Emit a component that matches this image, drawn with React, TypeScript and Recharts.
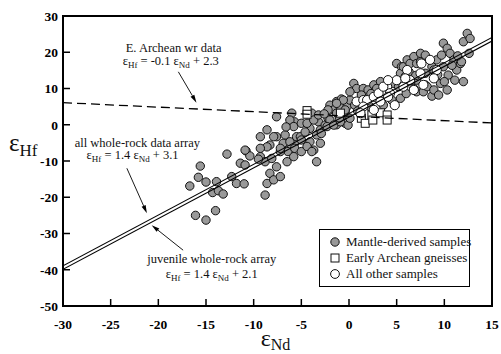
import React from 'react';
import {
  ScatterChart,
  Scatter,
  XAxis,
  YAxis,
  ReferenceArea,
  ReferenceDot,
  ReferenceLine,
  Legend,
} from 'recharts';

const serif = '"Liberation Serif", "Times New Roman", serif';

const xTicks = [-30, -25, -20, -15, -10, -5, 0, 5, 10, 15];
const yTicks = [-50, -40, -30, -20, -10, 0, 10, 20, 30];

// Mantle-derived samples (eNd, eHf)
const mantle = [
  { x: -16.7, y: -16.9 }, { x: -15.6, y: -11.4 }, { x: -15.8, y: -14.5 }, { x: -15.0, y: -15.8 },
  { x: -16.1, y: -25.0 }, { x: -15.0, y: -26.3 }, { x: -14.0, y: -23.7 }, { x: -14.3, y: -18.7 },
  { x: -13.9, y: -15.7 }, { x: -13.7, y: -18.2 }, { x: -13.2, y: -19.1 }, { x: -12.8, y: -8.1 },
  { x: -12.3, y: -14.3 }, { x: -11.8, y: -16.2 }, { x: -11.0, y: -16.3 }, { x: -11.4, y: -10.6 },
  { x: -10.9, y: -11.1 }, { x: -10.8, y: -7.2 }, { x: -10.4, y: -8.6 }, { x: -10.9, y: -7.0 },
  { x: -9.3, y: -3.3 }, { x: -8.6, y: -1.4 }, { x: -7.6, y: -3.3 }, { x: -8.3, y: -5.6 },
  { x: -6.9, y: -5.1 }, { x: -6.4, y: -7.4 }, { x: -9.3, y: -8.8 }, { x: -8.8, y: -10.2 },
  { x: -8.1, y: -9.3 }, { x: -7.6, y: -11.6 }, { x: -8.3, y: -13.4 }, { x: -8.6, y: -16.2 },
  { x: -7.9, y: -15.2 }, { x: -7.2, y: -14.3 }, { x: -6.5, y: -10.2 }, { x: -5.8, y: -8.8 },
  { x: -5.7, y: -5.1 }, { x: -5.5, y: -3.3 }, { x: -8.6, y: -6.1 }, { x: -7.2, y: -7.4 },
  { x: -9.3, y: -6.5 }, { x: -8.8, y: -19.4 }, { x: -9.5, y: -9.5 }, { x: -7.9, y: -3.3 },
  { x: -6.7, y: -2.8 }, { x: -6.2, y: -4.7 }, { x: -7.2, y: -6.5 }, { x: -7.6, y: 2.2 },
  { x: -6.0, y: 3.2 }, { x: -5.7, y: 0.8 }, { x: -6.2, y: 1.3 }, { x: -5.8, y: -0.5 },
  { x: -5.0, y: 0.4 }, { x: -5.1, y: -3.3 }, { x: -5.0, y: -4.2 }, { x: -4.1, y: -4.7 },
  { x: -3.4, y: -2.8 }, { x: -5.7, y: -6.5 }, { x: -3.7, y: -7.0 }, { x: -3.0, y: -5.1 },
  { x: -5.0, y: -7.4 }, { x: -4.4, y: -6.0 }, { x: -3.9, y: -7.4 }, { x: -3.4, y: -10.2 },
  { x: -3.9, y: 3.2 }, { x: -3.2, y: 0.8 }, { x: -4.1, y: -1.0 }, { x: -3.0, y: -1.4 },
  { x: -4.4, y: 0.4 }, { x: -3.7, y: 1.3 }, { x: -3.2, y: 2.7 }, { x: -2.5, y: -0.1 },
  { x: -2.2, y: 1.8 }, { x: -2.9, y: -2.4 }, { x: -2.0, y: 5.4 }, { x: -1.3, y: 6.4 },
  { x: -0.4, y: 3.6 }, { x: -2.0, y: 1.3 }, { x: -2.3, y: -0.5 }, { x: -1.3, y: 0.0 },
  { x: -0.4, y: 0.4 }, { x: -1.6, y: 4.1 }, { x: -2.2, y: 4.1 }, { x: -1.3, y: 3.2 },
  { x: -0.9, y: 5.0 }, { x: -0.2, y: 5.0 }, { x: 0.1, y: 6.8 }, { x: -0.8, y: 7.1 },
  { x: -0.6, y: 2.7 }, { x: -1.6, y: -0.1 }, { x: -0.9, y: 0.8 }, { x: -0.1, y: -0.1 },
  { x: 0.5, y: 11.4 }, { x: 0.8, y: 10.0 }, { x: 1.5, y: 10.0 }, { x: 1.3, y: 8.2 },
  { x: 0.1, y: 9.1 }, { x: -0.6, y: 6.8 }, { x: -1.3, y: 5.9 }, { x: -0.4, y: 4.1 },
  { x: 0.1, y: 1.8 }, { x: 0.6, y: 5.4 }, { x: 1.2, y: 5.4 }, { x: 1.8, y: 6.8 },
  { x: 2.0, y: 9.6 }, { x: 2.6, y: 11.0 }, { x: 3.3, y: 11.9 }, { x: 2.9, y: 10.0 },
  { x: 2.2, y: 5.0 }, { x: 3.6, y: 5.4 }, { x: 4.5, y: 6.8 }, { x: 5.4, y: 7.3 },
  { x: 4.7, y: 11.4 }, { x: 5.2, y: 10.5 }, { x: 5.0, y: 16.9 }, { x: 5.5, y: 16.0 },
  { x: 5.4, y: 14.2 }, { x: 5.7, y: 16.0 }, { x: 5.9, y: 13.3 }, { x: 6.1, y: 17.9 },
  { x: 6.4, y: 16.9 }, { x: 6.8, y: 18.8 }, { x: 7.1, y: 16.9 }, { x: 7.5, y: 19.7 },
  { x: 7.5, y: 17.4 }, { x: 6.8, y: 10.0 }, { x: 7.1, y: 12.3 }, { x: 7.1, y: 9.1 },
  { x: 8.0, y: 11.0 }, { x: 7.8, y: 9.1 }, { x: 8.0, y: 14.2 }, { x: 8.2, y: 10.5 },
  { x: 8.7, y: 7.9 }, { x: 8.9, y: 9.6 }, { x: 8.7, y: 16.0 }, { x: 9.2, y: 17.9 },
  { x: 9.4, y: 8.2 }, { x: 9.6, y: 11.4 }, { x: 9.7, y: 19.2 }, { x: 9.9, y: 16.0 },
  { x: 9.9, y: 22.5 }, { x: 10.3, y: 21.1 }, { x: 10.3, y: 9.6 }, { x: 10.4, y: 13.7 },
  { x: 10.6, y: 19.7 }, { x: 11.0, y: 17.9 }, { x: 11.1, y: 12.3 }, { x: 11.3, y: 15.1 },
  { x: 11.7, y: 16.9 }, { x: 12.0, y: 11.9 }, { x: 12.0, y: 22.9 }, { x: 12.4, y: 25.2 },
  { x: 12.6, y: 19.7 }, { x: 12.7, y: 23.8 }, { x: 11.8, y: 17.4 }, { x: 8.0, y: 19.2 },
  { x: 8.9, y: 15.1 }, { x: -1.0, y: 1.9 }, { x: -2.6, y: 3.0 }, { x: -4.6, y: -2.0 },
  { x: -6.6, y: -0.6 }, { x: 0.9, y: 3.8 }, { x: 2.3, y: 8.6 }, { x: 6.3, y: 14.6 },
  { x: 7.0, y: 13.6 }, { x: 9.3, y: 13.8 }, { x: 10.0, y: 11.9 }, { x: 10.8, y: 16.4 },
  { x: 11.4, y: 19.0 }, { x: 6.0, y: 8.6 },
];

// Early Archean gneisses
const gneisses = [
  { x: -4.4, y: 3.9 }, { x: -4.4, y: 2.9 }, { x: -0.9, y: 3.2 }, { x: 1.3, y: 1.8 },
  { x: 1.7, y: 0.4 }, { x: 2.4, y: 2.7 }, { x: 2.5, y: 1.3 }, { x: 3.3, y: 3.3 },
  { x: 4.0, y: 2.7 }, { x: 4.0, y: 1.3 },
];

// All other samples
const others = [
  { x: 0.8, y: 6.4 }, { x: 1.5, y: 6.8 }, { x: 1.9, y: 6.8 }, { x: 1.5, y: 5.0 },
  { x: 1.2, y: 3.2 }, { x: 2.6, y: 4.1 }, { x: 2.6, y: 7.7 }, { x: 3.1, y: 8.7 },
  { x: 3.3, y: 6.4 }, { x: 4.0, y: 10.5 }, { x: 4.3, y: 8.7 }, { x: 4.1, y: 7.7 },
  { x: 4.8, y: 5.4 }, { x: 5.0, y: 12.3 }, { x: 5.7, y: 10.5 }, { x: 6.1, y: 15.1 },
  { x: 6.4, y: 12.3 }, { x: 5.9, y: 12.8 }, { x: 7.5, y: 14.2 }, { x: 7.8, y: 11.0 },
  { x: 6.8, y: 9.6 }, { x: 7.6, y: 16.9 }, { x: 8.5, y: 17.9 }, { x: 9.2, y: 15.1 },
  { x: 8.9, y: 12.8 }, { x: 3.6, y: 10.5 }, { x: 4.1, y: 12.3 },
];

// regression arrays (end points at the axis limits)
const allArray = [{ x: -30, y: -38.9 }, { x: 15, y: 24.1 }];
const juvenileArray = [{ x: -30, y: -39.9 }, { x: 15, y: 23.1 }];
const archeanArray = [{ x: -30, y: 6.1 }, { x: 15, y: 0.5 }];

const legendItems = [
  { label: 'Mantle-derived samples', kind: 'grey' },
  { label: 'Early Archean gneisses', kind: 'square' },
  { label: 'All other samples', kind: 'open' },
];

const greyDot = (p: any) => (
  <circle cx={p.cx} cy={p.cy} r={4.2} fill="#999" stroke="#111" strokeWidth={1} />
);
const openDot = (p: any) => (
  <circle cx={p.cx} cy={p.cy} r={4.6} fill="#fff" stroke="#111" strokeWidth={1} />
);
const squareDot = (p: any) => (
  <rect x={p.cx - 4} y={p.cy - 4} width={8} height={8} fill="#fff" stroke="#111" strokeWidth={1} />
);
const noDot = () => <g />;

const YTick = (props: any) => {
  const { x, y, payload } = props;
  return (
    <g>
      <line x1={x + 5} x2={x + 12} y1={y} y2={y} stroke="#000" strokeWidth={1.5} />
      <text x={x} y={y} dy="0.36em" textAnchor="end" fontFamily={serif} fontWeight={700} fontSize={13.5} fill="#000">
        {payload.value}
      </text>
    </g>
  );
};

const XTick = (props: any) => {
  const { x, y, payload } = props;
  return (
    <g>
      <line x1={x} x2={x} y1={y - 13} y2={y - 20} stroke="#000" strokeWidth={1.5} />
      <text x={x} y={y} dy="0.72em" textAnchor="middle" fontFamily={serif} fontWeight={700} fontSize={13.5} fill="#000">
        {payload.value}
      </text>
    </g>
  );
};

const arrow = (props: any) => {
  const { x1, y1, x2, y2 } = props;
  const a = Math.atan2(y2 - y1, x2 - x1);
  const len = 8;
  const w = 2.2;
  const bx = x2 - len * Math.cos(a);
  const by = y2 - len * Math.sin(a);
  const px = -Math.sin(a) * w;
  const py = Math.cos(a) * w;
  return (
    <g>
      <line x1={x1} y1={y1} x2={bx} y2={by} stroke="#000" strokeWidth={0.9} />
      <polygon points={`${x2},${y2} ${bx + px},${by + py} ${bx - px},${by - py}`} fill="#000" />
    </g>
  );
};

const title = (text: string) => (p: any) => (
  <text x={p.cx} y={p.cy} textAnchor="middle" fontFamily={serif} fontSize={12.5} fill="#111">
    {text}
  </text>
);

const equation = (rhs: string) => (p: any) => (
  <text x={p.cx} y={p.cy} textAnchor="middle" fontFamily={serif} fontSize={12.5} fill="#111">
    ε<tspan fontSize={9} dy={3}>Hf</tspan>
    <tspan dy={-3}>{' = ' + rhs.split('|')[0] + ' ε'}</tspan>
    <tspan fontSize={9} dy={3}>Nd</tspan>
    <tspan dy={-3}>{' + ' + rhs.split('|')[1]}</tspan>
  </text>
);

const renderLegend = () => (
  <div
    style={{
      border: '1.5px solid #000',
      background: '#fff',
      boxSizing: 'border-box',
      width: 151,
      height: 58,
      paddingTop: 4,
      fontFamily: serif,
      fontSize: 13,
      color: '#111',
      whiteSpace: 'nowrap',
    }}
  >
    {legendItems.map((item) => (
      <div key={item.label} style={{ height: 16, display: 'flex', alignItems: 'center' }}>
        <svg width={12} height={12} style={{ marginLeft: 9, marginRight: 5, flex: 'none' }}>
          {item.kind === 'grey' && <circle cx={6} cy={6} r={4.2} fill="#999" stroke="#111" />}
          {item.kind === 'open' && <circle cx={6} cy={6} r={4.4} fill="#fff" stroke="#111" />}
          {item.kind === 'square' && <rect x={2} y={2} width={8} height={8} fill="#fff" stroke="#111" />}
        </svg>
        <span>{item.label}</span>
      </div>
    ))}
  </div>
);

const YLabel = (props: any) => {
  const { x, y } = props.viewBox;
  return (
    <text x={x + 1} y={y + 135} fontFamily={serif} fill="#111">
      <tspan fontSize={25}>ε</tspan>
      <tspan fontSize={17} dy={5}>Hf</tspan>
    </text>
  );
};

const XLabel = (props: any) => {
  const { x, y, width } = props.viewBox;
  return (
    <text x={x + width / 2 - 2} y={y + 40} textAnchor="middle" fontFamily={serif} fill="#111">
      <tspan fontSize={24}>ε</tspan>
      <tspan fontSize={16} dy={4}>Nd</tspan>
    </text>
  );
};

export default function App() {
  return (
    <div style={{ width: 501, height: 354, background: '#fff' }}>
      <style>{'body{margin:0}'}</style>
      <ScatterChart width={501} height={354} margin={{ top: 16, right: 9, bottom: 0, left: 8 }}>
        <XAxis
          type="number"
          dataKey="x"
          domain={[-30, 15]}
          ticks={xTicks}
          interval={0}
          allowDataOverflow
          height={48}
          axisLine={false}
          tickLine={false}
          tickSize={0}
          tickMargin={13}
          tick={XTick}
          label={{ content: XLabel }}
        />
        <YAxis
          type="number"
          dataKey="y"
          domain={[-50, 30]}
          ticks={yTicks}
          interval={0}
          allowDataOverflow
          width={55}
          axisLine={false}
          tickLine={false}
          tickSize={0}
          tickMargin={5}
          tick={YTick}
          label={{ content: YLabel }}
        />
        <Scatter data={mantle} shape={greyDot} isAnimationActive={false} />
        <Scatter data={gneisses} shape={squareDot} isAnimationActive={false} />
        <Scatter data={others} shape={openDot} isAnimationActive={false} />
        <Scatter data={allArray} shape={noDot} line={{ stroke: '#000', strokeWidth: 1.1 }} isAnimationActive={false} />
        <Scatter data={juvenileArray} shape={noDot} line={{ stroke: '#000', strokeWidth: 1.1 }} isAnimationActive={false} />
        <Scatter
          data={archeanArray}
          shape={noDot}
          line={{ stroke: '#000', strokeWidth: 1.3, strokeDasharray: '9 5' }}
          isAnimationActive={false}
        />
        <ReferenceArea x1={-30} x2={15} y1={-50} y2={30} fill="none" stroke="#000" strokeWidth={2} />

        <ReferenceDot x={-18.4} y={20.1} r={0} shape={title('E. Archean wr data')} />
        <ReferenceDot x={-18.7} y={16.5} r={0} shape={equation('-0.1|2.3')} />
        <ReferenceLine segment={[{ x: -17.9, y: 14.6 }, { x: -16.0, y: 6.1 }]} shape={arrow} />

        <ReferenceDot x={-22.2} y={-6.05} r={0} shape={title('all whole-rock data array')} />
        <ReferenceDot x={-22.7} y={-9.5} r={0} shape={equation('1.4|3.1')} />
        <ReferenceLine segment={[{ x: -23.3, y: -12.0 }, { x: -21.2, y: -24.4 }]} shape={arrow} />

        <ReferenceDot x={-14.4} y={-38.2} r={0} shape={title('juvenile whole-rock array')} />
        <ReferenceDot x={-14.4} y={-42.4} r={0} shape={equation('1.4|2.1')} />
        <ReferenceLine segment={[{ x: -17.4, y: -34.6 }, { x: -20.7, y: -27.7 }]} shape={arrow} />

        <Legend
          layout="horizontal"
          verticalAlign="middle"
          align="center"
          content={renderLegend}
          wrapperStyle={{ left: 319, top: 229, width: 151, height: 58 }}
        />
      </ScatterChart>
    </div>
  );
}
